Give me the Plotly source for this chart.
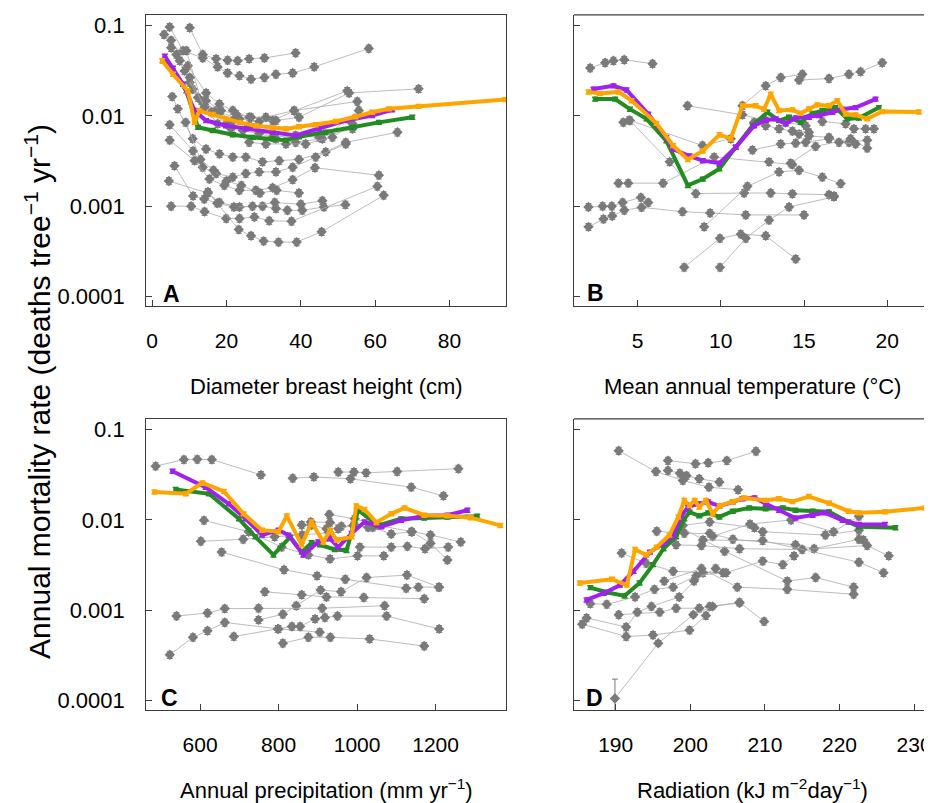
import plotly.graph_objects as go

# ---------------- Panel A : diameter breast height ----------------
A_gray_x = [
    [10.1, 13.6, 17.2, 20.3, 23.0, 26.1, 30.2, 38.6],
    [4.7, 8.3, 13.6, 17.6, 20.3, 23.5, 26.6, 30.2, 33.3, 37.8, 43.6, 58.3],
    [3.2, 5.1, 9.6, 14.5, 18.1, 21.7, 26.1, 32.4, 38.2, 52.5],
    [5.1, 9.2, 13.2, 18.1, 23.5, 28.8, 33.3, 39.5, 53.0, 71.7],
    [6.5, 10.1, 13.6, 17.2, 21.7, 26.1, 32.4, 38.6, 44.9, 53.9],
    [5.4, 6.9, 10.9, 14.5, 18.1, 21.7, 25.2, 29.7, 34.2, 39.5, 46.7, 52.1, 66.0],
    [4.7, 11.0, 13.6, 17.2, 21.7, 25.2, 28.8, 33.3, 37.8, 44.0, 52.1],
    [4.7, 11.4, 15.4, 19.4, 23.5, 27.9, 32.4, 37.8, 43.8, 61.0],
    [4.5, 15.0, 18.1, 23.5, 29.7, 33.3, 36.4, 40.4, 46.2, 52.0],
    [5.1, 10.5, 14.1, 19.9, 23.5, 27.5, 31.5, 37.5, 60.6],
    [15.0, 23.3, 26.6, 30.0, 34.0, 38.9, 45.6, 62.3],
    [7.4, 10.9, 14.5, 18.5, 22.6, 26.6, 30.6, 38.2, 55.2],
    [8.7, 12.3, 15.9, 19.9, 24.4, 28.8, 33.3, 38.6, 45.8, 55.6],
    [10.1, 14.1, 17.6, 21.2, 26.1, 30.6, 36.0, 41.3, 48.5, 53.9],
    [9.0, 13.0, 16.5, 20.0, 24.0, 29.0, 33.5, 39.5],
    [6.0, 11.0, 14.0, 17.5, 22.0, 27.0, 33.0, 40.0, 45.8],
]
A_gray_y = [
    [0.095, 0.048, 0.043, 0.0415, 0.041, 0.043, 0.044, 0.050],
    [0.097, 0.053, 0.044, 0.035, 0.030, 0.028, 0.0256, 0.0267, 0.029, 0.030, 0.035, 0.056],
    [0.080, 0.069, 0.036, 0.018, 0.0136, 0.0115, 0.0097, 0.0089, 0.0114, 0.019],
    [0.057, 0.053, 0.0148, 0.011, 0.0093, 0.0087, 0.0089, 0.0097, 0.018, 0.020],
    [0.048, 0.0235, 0.0142, 0.0115, 0.0089, 0.0078, 0.0058, 0.0061, 0.0058, 0.0072],
    [0.0164, 0.012, 0.0056, 0.0043, 0.0038, 0.0035, 0.0035, 0.0031, 0.0032, 0.0033, 0.004, 0.0051, 0.0066],
    [0.008, 0.0041, 0.0027, 0.0023, 0.0021, 0.0023, 0.0024, 0.0024, 0.0027, 0.0035, 0.0049],
    [0.0054, 0.0032, 0.002, 0.0017, 0.0015, 0.0015, 0.0016, 0.00197, 0.00267, 0.0022],
    [0.0019, 0.0014, 0.0011, 0.00098, 0.001, 0.00094, 0.0009, 0.0009, 0.00098, 0.00104],
    [0.001, 0.001, 0.00087, 0.00073, 0.00073, 0.00076, 0.00069, 0.00068, 0.00166],
    [0.00144, 0.00055, 0.00047, 0.00041, 0.0004, 0.0004, 0.00052, 0.00132],
    [0.041, 0.0198, 0.0148, 0.0115, 0.0105, 0.0097, 0.0097, 0.0115, 0.0145],
    [0.0316, 0.016, 0.011, 0.0082, 0.0069, 0.0064, 0.0056, 0.0051, 0.0056, 0.0115],
    [0.0267, 0.0125, 0.0082, 0.0072, 0.0051, 0.0049, 0.0049, 0.0049, 0.0058, 0.0082],
    [0.0085, 0.0033, 0.0025, 0.0019, 0.0017, 0.0014, 0.0015, 0.0014],
    [0.0028, 0.0013, 0.0012, 0.00108, 0.00098, 0.001, 0.0011, 0.00105, 0.00115],
]
A_green_x = [2.9, 5.6, 9.2, 12.3, 16.3, 21.7, 27.0, 32.4, 36.0, 39.5, 46.7, 53.9, 61.0, 70.0]
A_green_y = [0.041, 0.0316, 0.019, 0.0075, 0.0069, 0.0062, 0.0058, 0.0056, 0.0054, 0.0059, 0.0066, 0.0075, 0.0085, 0.0097]
A_purple_x = [3.4, 5.6, 8.3, 11.4, 14.5, 19.9, 25.2, 32.4, 38.6, 44.9, 52.1, 59.2, 64.6]
A_purple_y = [0.046, 0.034, 0.0225, 0.0115, 0.0089, 0.0078, 0.0072, 0.0066, 0.0061, 0.0072, 0.0089, 0.0101, 0.0117]
A_orange_x = [2.7, 5.6, 9.6, 11.4, 12.7, 16.3, 19.9, 23.5, 27.9, 32.4, 36.0, 39.5, 44.0, 49.4, 54.7, 59.2, 63.7, 71.7, 95.0]
A_orange_y = [0.041, 0.029, 0.019, 0.0085, 0.0114, 0.0104, 0.0093, 0.0085, 0.0078, 0.0074, 0.0072, 0.0076, 0.008, 0.0087, 0.0098, 0.011, 0.012, 0.0128, 0.0152]

# ---------------- Panel B : mean annual temperature ----------------
B_gray_x = [
    [2.15, 3.05, 3.55, 4.2, 5.9],
    [11.3, 12.7, 13.6, 14.9],
    [14.7, 16.5, 17.7, 18.4, 19.7],
    [8.0, 11.3, 12.7, 13.9, 15.1],
    [4.14, 4.54, 6.93, 8.5, 11.4, 13.0, 14.3, 16.5, 16.8],
    [3.85, 4.44, 6.53, 9.6, 12.9, 14.3],
    [2.05, 2.9, 3.45, 4.1, 5.2, 5.64],
    [2.05, 2.95, 3.48, 4.2, 5.24, 7.7, 9.36, 11.5, 15.0],
    [7.8, 9.95, 11.2, 12.7, 14.5],
    [9.95, 11.5, 12.9, 14.1, 16.8],
    [9.0, 11.6, 13.5, 14.7, 16.1, 17.2],
    [14.2, 15.7, 17.8, 18.8],
    [11.9, 13.6, 14.5, 15.1, 16.5, 17.7, 18.8],
    [16.1, 17.5, 18.0, 18.7, 19.2],
    [14.7, 15.3, 16.5, 17.1, 18.1],
    [4.5, 8.9, 10.6],
    [12.0, 12.7, 13.5, 14.3, 15.3],
]
B_gray_y = [
    [0.034, 0.039, 0.041, 0.042, 0.038],
    [0.013, 0.0216, 0.0267, 0.029],
    [0.025, 0.026, 0.029, 0.031, 0.039],
    [0.013, 0.0103, 0.0089, 0.0085, 0.0078],
    [0.0085, 0.0089, 0.0031, 0.00138, 0.0014, 0.0014, 0.00137, 0.00134, 0.0013],
    [0.0018, 0.0018, 0.0018, 0.0035, 0.0031, 0.0029],
    [0.00098, 0.001, 0.001, 0.0011, 0.00125, 0.0011],
    [0.00059, 0.00072, 0.00078, 0.0009, 0.00097, 0.00087, 0.00084, 0.0008, 0.0008],
    [0.00021, 0.00044, 0.00049, 0.00047, 0.00026],
    [0.00021, 0.00044, 0.0007, 0.00098, 0.00127],
    [0.00059, 0.00166, 0.0024, 0.0025, 0.0021, 0.00178],
    [0.003, 0.0046, 0.0056, 0.0044],
    [0.0042, 0.0049, 0.005, 0.0051, 0.0056, 0.0051, 0.0054],
    [0.0087, 0.0082, 0.0072, 0.0072, 0.0072],
    [0.0063, 0.006, 0.0058, 0.0051, 0.0049],
    [0.009, 0.0047, 0.0056],
    [0.0085, 0.0078, 0.0072, 0.0068, 0.0066],
]
B_green_x = [2.45, 3.65, 4.54, 5.54, 6.73, 8.02, 8.92, 9.92, 10.9, 11.9, 12.8, 13.5, 14.1, 14.8, 15.5, 16.1, 16.9, 17.6, 18.3, 19.5]
B_green_y = [0.0154, 0.0154, 0.0119, 0.0093, 0.0053, 0.0017, 0.002, 0.0026, 0.0045, 0.0078, 0.011, 0.0089, 0.0097, 0.0085, 0.0107, 0.0115, 0.0124, 0.0093, 0.0095, 0.0124]
B_purple_x = [2.35, 3.55, 4.34, 5.64, 6.73, 7.13, 8.12, 8.92, 9.92, 10.9, 12.0, 12.7, 13.3, 13.9, 14.5, 15.3, 15.9, 16.7, 17.3, 18.1, 19.3]
B_purple_y = [0.0199, 0.0216, 0.0194, 0.0105, 0.0058, 0.0043, 0.0036, 0.0032, 0.003, 0.0045, 0.0078, 0.009, 0.0093, 0.0082, 0.0095, 0.0097, 0.0101, 0.011, 0.0119, 0.0124, 0.0154]
B_orange_x = [2.05, 2.75, 3.85, 4.64, 6.13, 7.13, 8.02, 8.92, 9.92, 10.6, 11.3, 12.1, 12.6, 13.0, 13.5, 14.3, 14.8, 15.3, 15.8, 16.5, 17.0, 17.5, 18.1, 18.8, 19.7, 21.9]
B_orange_y = [0.0185, 0.0178, 0.0185, 0.0148, 0.0083, 0.0047, 0.0033, 0.0041, 0.0062, 0.0056, 0.013, 0.013, 0.0119, 0.0175, 0.0115, 0.0117, 0.0107, 0.012, 0.0133, 0.013, 0.0148, 0.0105, 0.0103, 0.0093, 0.0112, 0.0111]

# ---------------- Panel C : annual precipitation ----------------
C_gray_x = [
    [487, 559, 593, 630, 755],
    [836, 890, 983, 1138, 1220],
    [952, 992, 1023, 1102, 1258],
    [610, 724, 808, 876, 931, 1001, 1068],
    [602, 710, 790, 860, 930],
    [655, 814, 898, 970, 1125, 1156, 1208],
    [765, 859, 922, 1017, 1171],
    [749, 811, 845, 907, 959, 1024, 1127, 1209],
    [540, 619, 663, 749, 911, 1070],
    [523, 582, 619, 663, 800, 905],
    [686, 798, 834, 855, 893, 918, 950, 1075, 1209],
    [811, 876, 932, 1032, 1171],
    [929, 994, 1053, 1138, 1187, 1264],
    [1007, 1087, 1128, 1173, 1232],
    [882, 931, 960, 995, 1040, 1087, 1140, 1187, 1230],
    [859, 884, 922, 952, 990, 1028],
]
C_gray_y = [
    [0.0395, 0.0467, 0.047, 0.0467, 0.0316],
    [0.029, 0.030, 0.0286, 0.0231, 0.0185],
    [0.034, 0.034, 0.0333, 0.0344, 0.037],
    [0.0099, 0.0074, 0.005, 0.0041, 0.0037, 0.004, 0.004],
    [0.0058, 0.0061, 0.0065, 0.0068, 0.0072],
    [0.0044, 0.0028, 0.0024, 0.0022, 0.00175, 0.0018, 0.0018],
    [0.0016, 0.00148, 0.0014, 0.00138, 0.00134],
    [0.00078, 0.0009, 0.00112, 0.00167, 0.0016, 0.0023, 0.00245, 0.0018],
    [0.00086, 0.00093, 0.00104, 0.00105, 0.00105, 0.00112],
    [0.00032, 0.0005, 0.00059, 0.00073, 0.00062, 0.00057],
    [0.00051, 0.00062, 0.00066, 0.00066, 0.0008, 0.00083, 0.00086, 0.00086, 0.00062],
    [0.00043, 0.0005, 0.0005, 0.00048, 0.0004],
    [0.0115, 0.0103, 0.0087, 0.0074, 0.0068, 0.0057],
    [0.005, 0.005, 0.0051, 0.0048, 0.005],
    [0.0095, 0.0094, 0.0085, 0.0087, 0.0083, 0.007, 0.0074, 0.0055, 0.0036],
    [0.0088, 0.0088, 0.008, 0.008, 0.0087, 0.0083],
]
C_green_x = [538, 623, 699, 741, 787, 830, 859, 884, 905, 943, 973, 1003, 1053, 1112, 1171, 1230, 1306]
C_green_y = [0.0218, 0.0195, 0.0103, 0.0065, 0.0041, 0.0065, 0.0044, 0.0056, 0.0053, 0.0047, 0.0046, 0.0128, 0.0087, 0.0103, 0.0105, 0.0108, 0.011]
C_purple_x = [530, 614, 673, 716, 758, 800, 825, 863, 901, 931, 952, 986, 1019, 1062, 1112, 1171, 1230, 1281]
C_purple_y = [0.0347, 0.0231, 0.0151, 0.0103, 0.0068, 0.0077, 0.0068, 0.0041, 0.0057, 0.0062, 0.005, 0.0071, 0.0095, 0.0084, 0.0099, 0.0111, 0.0113, 0.0128]
C_orange_x = [484, 564, 606, 661, 711, 758, 800, 821, 859, 884, 914, 931, 948, 986, 998, 1019, 1049, 1087, 1121, 1171, 1230, 1289, 1365]
C_orange_y = [0.0204, 0.0195, 0.0258, 0.0207, 0.0117, 0.0077, 0.0074, 0.0111, 0.0053, 0.0095, 0.0057, 0.0077, 0.006, 0.0065, 0.0143, 0.0131, 0.0094, 0.0117, 0.0136, 0.0113, 0.0111, 0.0106, 0.0087]

# ---------------- Panel D : radiation ----------------
D_gray_x = [
    [190.4, 195.4, 199.0, 202.5, 206.4],
    [197.0, 200.7, 202.4, 204.9, 208.8],
    [197.0, 198.6, 199.5, 201.2, 203.9],
    [185.5, 191.4, 195.0, 199.9, 202.1],
    [190.4, 195.9, 198.1, 201.2, 202.6, 206.6, 209.9],
    [190.8, 194.1, 197.7, 201.7, 204.8, 209.7, 212.4, 213.9],
    [186.6, 188.8, 192.6, 195.2, 197.7, 200.8, 204.4],
    [186.1, 191.4, 192.9, 194.8, 198.5, 200.5, 203.4],
    [198.6, 204.6, 213.0, 216.8, 221.9],
    [196.5, 201.5, 206.3, 213.0, 221.9],
    [195.5, 199.2, 202.6, 205.7, 214.1, 216.6, 222.6, 223.2],
    [199.0, 202.6, 208.6, 209.7, 218.1, 222.6],
    [198.1, 201.5, 206.6, 215.0, 223.7, 226.6],
    [203.0, 208.0, 213.5, 219.2, 222.6],
    [201.7, 209.7, 222.6, 225.9],
]
D_gray_y = [
    [0.0586, 0.0344, 0.0274, 0.0231, 0.0216],
    [0.0455, 0.042, 0.043, 0.0455, 0.0577],
    [0.0353, 0.033, 0.031, 0.0286, 0.0263],
    [0.0007, 0.00051, 0.00053, 0.0006, 0.00087],
    [0.00089, 0.00095, 0.00105, 0.00105, 0.0011, 0.00122, 0.00075],
    [0.0043, 0.0033, 0.0027, 0.0026, 0.0026, 0.0035, 0.0032, 0.004],
    [0.00118, 0.00116, 0.0014, 0.0017, 0.0018, 0.0024, 0.0026],
    [0.00082, 0.00065, 0.00095, 0.0011, 0.0014, 0.0021, 0.0029],
    [0.0084, 0.0045, 0.0021, 0.0023, 0.0018],
    [0.0021, 0.0029, 0.0018, 0.0017, 0.0015],
    [0.0075, 0.0071, 0.0071, 0.0061, 0.0053, 0.0048, 0.0061, 0.006],
    [0.0087, 0.0095, 0.0082, 0.0074, 0.0068, 0.0077],
    [0.0053, 0.0052, 0.0048, 0.0047, 0.0052, 0.004],
    [0.0066, 0.009, 0.0100, 0.0074, 0.011],
    [0.006, 0.0059, 0.0034, 0.0026],
]
# series with a wide error bar on its first point
D_low_x = [189.9, 195.7, 200.4, 203.0, 206.6]
D_low_y = [0.000105, 0.00043, 0.00089, 0.0011, 0.0012]
D_low_err_up = [0.000067, 0.00003, 0.00006, 0.00007, 0.00007]
D_low_err_dn = [0.00006, 0.00003, 0.00006, 0.00007, 0.00007]

D_green_x = [186.6, 188.8, 191.2, 193.2, 195.0, 196.4, 198.1, 199.2, 199.9, 201.2, 202.4, 203.9, 205.7, 207.9, 210.1, 212.4, 214.1, 216.4, 218.6, 221.2, 222.6, 227.5]
D_green_y = [0.00178, 0.00158, 0.00144, 0.002, 0.0032, 0.0048, 0.0065, 0.0103, 0.0122, 0.0111, 0.012, 0.0108, 0.0125, 0.0136, 0.0133, 0.0136, 0.0128, 0.0125, 0.0123, 0.0095, 0.0084, 0.0082]
D_purple_x = [186.1, 188.4, 190.6, 192.4, 194.6, 196.4, 197.7, 198.8, 199.7, 201.0, 202.4, 203.9, 205.7, 207.0, 208.6, 210.1, 211.9, 214.1, 216.4, 218.1, 220.4, 222.6, 226.1]
D_purple_y = [0.0013, 0.00154, 0.0019, 0.0027, 0.0044, 0.0055, 0.0067, 0.0111, 0.0139, 0.0151, 0.0158, 0.0143, 0.0158, 0.0172, 0.0176, 0.0151, 0.0128, 0.0105, 0.0113, 0.012, 0.0099, 0.0089, 0.0089]
D_orange_x = [185.2, 189.5, 191.5, 192.6, 194.1, 195.5, 197.2, 198.4, 199.2, 199.9, 200.6, 201.2, 202.1, 203.0, 203.9, 205.7, 207.2, 210.1, 211.9, 213.7, 215.9, 218.6, 221.2, 222.6, 226.1, 231.5]
D_orange_y = [0.002, 0.0022, 0.0019, 0.0047, 0.0041, 0.005, 0.0068, 0.0108, 0.0165, 0.0145, 0.0165, 0.0139, 0.0165, 0.0117, 0.0143, 0.0158, 0.0176, 0.0165, 0.0172, 0.016, 0.0182, 0.0154, 0.0125, 0.012, 0.0123, 0.0136]

# ---------------- text ----------------
y_tick_vals = [0.1, 0.01, 0.001, 0.0001]
y_tick_text = ["0.1", "0.01", "0.001", "0.0001"]
A_ticks = [0, 20, 40, 60, 80]
B_ticks = [5, 10, 15, 20]
C_ticks = [600, 800, 1000, 1200]
D_ticks = [190, 200, 210, 220, 230]
x_titles = ["Diameter breast height (cm)",
            "Mean annual temperature (°C)",
            "Annual precipitation (mm yr<sup>−1</sup>)",
            "Radiation (kJ m<sup>−2</sup>day<sup>−1</sup>)"]
y_title = "Annual mortality rate (deaths tree<sup>−1</sup> yr<sup>−1</sup>)"
panel_letters = ["A", "B", "C", "D"]

# ---------------- figure ----------------
# the page adds an 8 px body margin, so the figure is drawn 8 px smaller
OFF = 8
W, H = 932 - OFF, 803 - OFF
GRAY_M = "#7a7a7a"
GRAY_L = "#ababab"
GREEN = "#228B22"
PURPLE = "#A020F0"
ORANGE = "#FFA500"
FONT = "Liberation Sans, Arial, sans-serif"


def px(x):
    return (x - OFF) / W


def py(y):
    return 1 - (y - OFF) / H


fig = go.Figure()


def gray_trace(x, y, xa, ya, err=None):
    ey = dict(type="percent", value=9, color=GRAY_M, thickness=1, width=3)
    if err is not None:
        ey = dict(type="data", array=err[0], arrayminus=err[1], color=GRAY_M, thickness=1, width=3)
    return go.Scatter(x=x, y=y, xaxis=xa, yaxis=ya, mode="lines+markers",
                      line=dict(color=GRAY_L, width=0.8),
                      marker=dict(symbol="diamond", size=8, color=GRAY_M),
                      error_y=ey, showlegend=False, hoverinfo="skip")


def main_trace(x, y, xa, ya, color):
    return go.Scatter(x=x, y=y, xaxis=xa, yaxis=ya, mode="lines+markers",
                      line=dict(color=color, width=4),
                      marker=dict(symbol="circle", size=5, color=color),
                      error_y=dict(type="percent", value=5, color=color, thickness=1.5, width=3),
                      showlegend=False, hoverinfo="skip")


panels = [
    ("x", "y", A_gray_x, A_gray_y, (A_green_x, A_green_y), (A_purple_x, A_purple_y), (A_orange_x, A_orange_y)),
    ("x2", "y2", B_gray_x, B_gray_y, (B_green_x, B_green_y), (B_purple_x, B_purple_y), (B_orange_x, B_orange_y)),
    ("x3", "y3", C_gray_x, C_gray_y, (C_green_x, C_green_y), (C_purple_x, C_purple_y), (C_orange_x, C_orange_y)),
    ("x4", "y4", D_gray_x, D_gray_y, (D_green_x, D_green_y), (D_purple_x, D_purple_y), (D_orange_x, D_orange_y)),
]
for xa, ya, gx, gy, gr, pu, orr in panels:
    for sx, sy in zip(gx, gy):
        fig.add_trace(gray_trace(sx, sy, xa, ya))
    if xa == "x4":
        fig.add_trace(gray_trace(D_low_x, D_low_y, xa, ya, err=(D_low_err_up, D_low_err_dn)))
    fig.add_trace(main_trace(gr[0], gr[1], xa, ya, GREEN))
    fig.add_trace(main_trace(pu[0], pu[1], xa, ya, PURPLE))
    fig.add_trace(main_trace(orr[0], orr[1], xa, ya, ORANGE))

LINE = "#3c3c3c"
tickfont = dict(family=FONT, size=21, color="black")
ytickfont = dict(family=FONT, size=22, color="black")


def xaxis(domain, rng, ticks, anchor, mirror):
    return dict(domain=domain, range=rng, tickvals=ticks, ticktext=[str(t) for t in ticks],
                anchor=anchor, showline=True, mirror=mirror, linecolor=LINE, linewidth=1.3,
                ticks="inside", ticklen=6, tickcolor=LINE, showgrid=False, zeroline=False,
                tickfont=tickfont, ticklabelstandoff=15, ticklabeloverflow="allow")


def yaxis(domain, anchor, labels):
    return dict(domain=domain, type="log", range=[-4.112, -0.88], tickvals=y_tick_vals,
                ticktext=y_tick_text, showticklabels=labels, anchor=anchor,
                showline=True, mirror=labels, linecolor=LINE, linewidth=1.3,
                ticks="inside", ticklen=6, tickcolor=LINE, showgrid=False, zeroline=False,
                tickfont=ytickfont, ticklabelstandoff=16)


xl = [px(147), px(509)]
xr = [px(577), 1.0]
yt = [py(307), py(14)]
yb = [py(713), py(420)]

fig.update_layout(
    width=W, height=H, margin=dict(l=0, r=0, t=0, b=0),
    paper_bgcolor="white", plot_bgcolor="white", showlegend=False,
    xaxis=xaxis(xl, [-1.6, 95.3], A_ticks, "y", True),
    xaxis2=xaxis(xr, [1.175, 22.39], B_ticks, "y2", False),
    xaxis3=xaxis(xl, [463, 1380], C_ticks, "y3", True),
    xaxis4=xaxis(xr, [184.4, 231.73], D_ticks, "y4", False),
    yaxis=yaxis(yt, "x", True),
    yaxis2=yaxis(yt, "x2", False),
    yaxis3=yaxis(yb, "x3", True),
    yaxis4=yaxis(yb, "x4", False),
)

# top border for the right-hand panels (their right side is cut off)
for xr_, yr_ in (("x2 domain", "y2 domain"), ("x4 domain", "y4 domain")):
    fig.add_shape(type="line", xref=xr_, yref=yr_, x0=0, x1=1, y0=1, y1=1,
                  line=dict(color=LINE, width=1.3))

# axis titles
title_font = dict(family=FONT, size=22, color="black")
for txt, cx, cy in zip(x_titles, [328, 757, 328, 757], [387, 387, 792, 792]):
    fig.add_annotation(text=txt, x=px(cx), y=py(cy), xref="paper", yref="paper",
                       showarrow=False, font=title_font, xanchor="center", yanchor="middle")

fig.add_annotation(text=y_title, x=px(38), y=py(392), xref="paper", yref="paper",
                   showarrow=False, textangle=-90, xanchor="center", yanchor="middle",
                   font=dict(family=FONT, size=30, color="black"))

for letter, cx, cy in zip(panel_letters, [172, 599, 170, 598], [294, 293, 700, 700]):
    fig.add_annotation(text="<b>" + letter + "</b>", x=px(cx), y=py(cy), xref="paper", yref="paper",
                       showarrow=False, font=dict(family=FONT, size=23, color="black"),
                       xanchor="center", yanchor="middle")

fig.write_html("out.html")
